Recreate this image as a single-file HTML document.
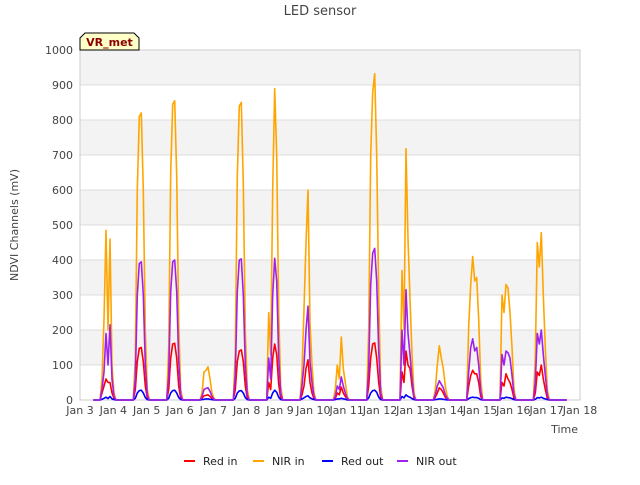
<!DOCTYPE html>
<html><head><meta charset="utf-8"><style>
body{margin:0;background:#fff;}
svg text{font-family:"DejaVu Sans","Liberation Sans",sans-serif;}
</style></head><body>
<svg id="chart" width="640" height="480" xmlns="http://www.w3.org/2000/svg">
<rect width="640" height="480" fill="#fff"/>
<g id="bands"></g>
<g id="grid"></g>
<rect x="80" y="50" width="500" height="350" fill="none" stroke="#ccc"/>
<g id="yt"></g>
<g id="xt"></g>
<g id="series"></g>
<text x="320" y="15" text-anchor="middle" font-size="13" fill="#444">LED sensor</text>
<text transform="translate(18,225) rotate(-90)" text-anchor="middle" font-size="11" fill="#444">NDVI Channels (mV)</text>
<text x="578" y="433" text-anchor="end" font-size="11" fill="#444">Time</text>
<g>
<path d="M80,50 L80,38 L85,33 L134,33 L139,38 L139,50 Z" fill="#ffffc8" stroke="#000" stroke-width="1"/>
<text x="109.5" y="46" text-anchor="middle" font-size="11" font-weight="bold" fill="#8b0000">VR_met</text>
</g>
<g id="legend"></g>
</svg>
<script>
const yTicks=[0,100,200,300,400,500,600,700,800,900,1000];
const xTickLabels=["Jan 3","Jan 4","Jan 5","Jan 6","Jan 7","Jan 8","Jan 9","Jan 10","Jan 11","Jan 12","Jan 13","Jan 14","Jan 15","Jan 16","Jan 17","Jan 18"];
const seriesNames=["Red in","NIR in","Red out","NIR out"];
const seriesColors=["#ff0000","#ffa500","#0000ff","#a020f0"];
const redIn=[[0,20,40,60,50,50,20,5,0],[0,30,110,148,150,110,40,5,0],[0,30,120,160,162,120,40,5,0],[0,5,12,13,15,10,5,1,0],[0,30,110,140,143,110,40,5,0],[0,50,30,120,160,130,45,5,0],[0,15,40,90,115,50,20,3,0],[0,5,20,15,37,20,10,2,0],[0,40,120,160,163,120,50,5,0],[0,80,50,140,100,90,40,5,0],[0,8,20,35,30,20,8,2,0],[0,40,70,85,75,75,50,10,0],[0,50,40,75,60,50,30,5,0],[0,20,80,70,100,60,30,5,0]];
const nirIn=[[0,60,230,485,200,460,100,20,0],[0,120,600,810,820,600,200,30,0],[0,150,650,845,855,640,220,30,0],[0,20,80,85,95,60,20,5,0],[0,140,640,840,850,620,200,30,0],[0,250,130,600,890,700,250,40,0],[0,80,260,450,600,220,100,20,0],[0,30,100,60,180,90,50,10,0],[0,200,700,880,932,700,300,40,0],[0,370,200,718,460,290,130,20,0],[0,30,100,155,120,90,40,10,0],[0,210,330,410,340,350,230,60,0],[0,300,250,330,320,250,150,30,0],[0,120,450,380,478,300,150,30,0]];
const redOut=[[0,2,5,8,4,10,3,1,0],[0,5,20,27,28,20,7,1,0],[0,5,20,27,28,20,7,1,0],[0,1,2,3,3,2,1,0,0],[0,5,20,26,27,20,7,1,0],[0,8,5,20,28,22,8,1,0],[0,3,6,10,12,6,3,1,0],[0,1,3,3,5,3,2,0,0],[0,6,20,27,28,22,8,1,0],[0,10,6,15,10,8,4,1,0],[0,1,2,3,3,2,1,0,0],[0,4,7,8,7,7,5,1,0],[0,6,5,8,7,6,4,1,0],[0,2,7,6,8,5,3,1,0]];
const nirOut=[[0,30,80,190,100,215,60,10,0],[0,60,300,390,395,300,100,15,0],[0,70,310,395,400,310,110,15,0],[0,10,30,33,35,25,10,2,0],[0,70,310,400,403,300,100,15,0],[0,120,60,300,405,340,120,20,0],[0,40,100,200,268,110,50,10,0],[0,10,40,30,66,40,20,5,0],[0,90,330,420,433,340,140,20,0],[0,200,100,315,190,130,60,10,0],[0,15,40,55,45,35,15,5,0],[0,80,150,175,140,150,100,25,0],[0,130,100,140,135,120,70,15,0],[0,50,190,160,200,130,70,15,0]];
const allSeries=[redIn,nirIn,redOut,nirOut];
const NS="http://www.w3.org/2000/svg";
const x=t=>80+t*500/15;
const y=v=>400-v*350/1000;
function mk(tag,attrs,parent){const e=document.createElementNS(NS,tag);for(const k in attrs)e.setAttribute(k,attrs[k]);parent.appendChild(e);return e;}
const bands=document.getElementById('bands'),grid=document.getElementById('grid');
for(let i=0;i<yTicks.length-1;i++){if(i%2===1){const r=mk('rect',{x:80,y:y(yTicks[i+1]),width:500,height:y(yTicks[i])-y(yTicks[i+1]),fill:'#f3f3f3'},bands);

}}
const yt=document.getElementById('yt');
yTicks.forEach(v=>{const l=mk('line',{x1:80,x2:580,y1:y(v),y2:y(v),stroke:'#ddd'},grid);


const t=mk('text',{x:73,y:y(v)+4,'text-anchor':'end','font-size':11,fill:'#444'},yt);t.textContent=v;

});
const xt=document.getElementById('xt');
xTickLabels.forEach((s,i)=>{const t=mk('text',{x:x(i),y:414,'text-anchor':'middle','font-size':11,fill:'#444'},xt);t.textContent=s;

});
const sg=document.getElementById('series');
allSeries.forEach((days,si)=>{
 let pts=[[0.4,0]];
 days.forEach((vals,d)=>{const n=d+1;pts.push([n-0.45,0]);vals.forEach((v,k)=>pts.push([n-0.4+k*0.06,v]));});
 pts.push([14.6,0]);
 const p=mk('polyline',{points:pts.map(q=>x(q[0]).toFixed(1)+','+y(q[1]).toFixed(1)).join(' '),fill:'none',stroke:seriesColors[si],'stroke-width':1.6,'stroke-linejoin':'round'},sg);
 
 
});
const lg=document.getElementById('legend');
const lx=[184,253,322,397];
seriesNames.forEach((s,i)=>{const g=mk('g',{},lg);


mk('line',{x1:lx[i],x2:lx[i]+11,y1:461,y2:461,stroke:seriesColors[i],'stroke-width':2},g);
const t=mk('text',{x:lx[i]+19,y:465,'font-size':11,fill:'#222'},g);t.textContent=s;});
</script>
</body></html>
